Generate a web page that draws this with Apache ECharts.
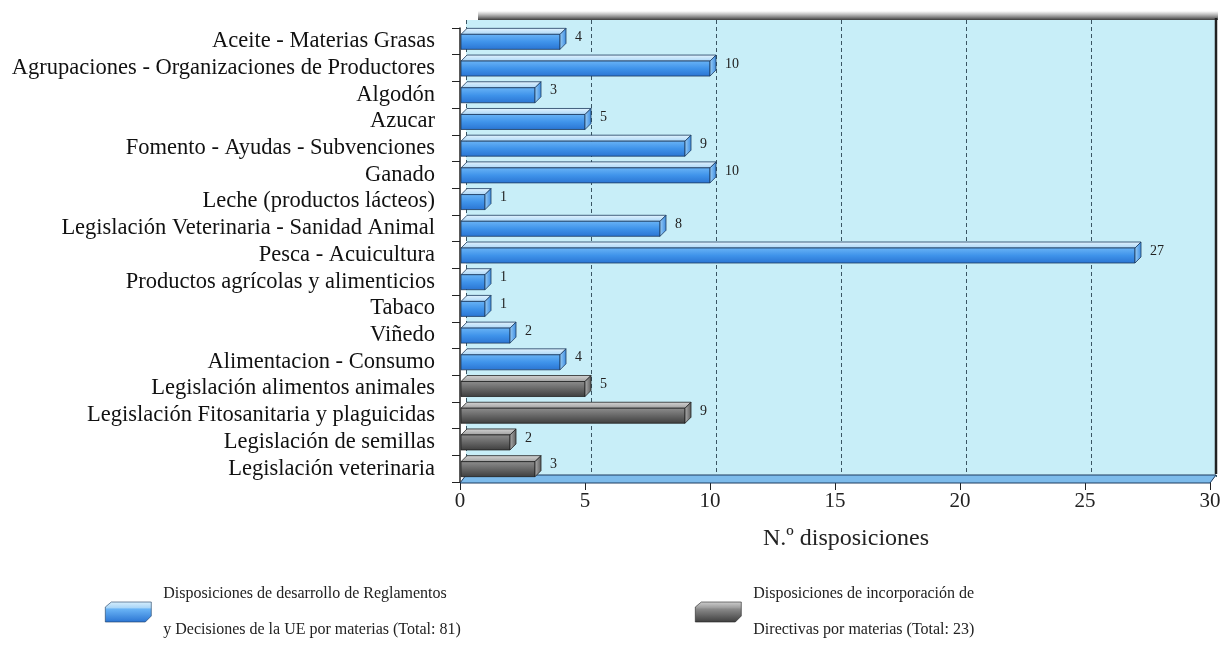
<!DOCTYPE html>
<html><head><meta charset="utf-8">
<script src="https://cdn.jsdelivr.net/npm/echarts@6/dist/echarts.min.js"></script>
<style>html,body{margin:0;padding:0;background:#fff}#c{width:1225px;height:657px}</style>
</head><body><div id="c"></div>
<script>
const categories = [
  'Aceite - Materias Grasas',
  'Agrupaciones - Organizaciones de Productores',
  'Algodón',
  'Azucar',
  'Fomento - Ayudas - Subvenciones',
  'Ganado',
  'Leche (productos lácteos)',
  'Legislación Veterinaria - Sanidad Animal',
  'Pesca - Acuicultura',
  'Productos agrícolas y alimenticios',
  'Tabaco',
  'Viñedo',
  'Alimentacion - Consumo',
  'Legislación alimentos animales',
  'Legislación Fitosanitaria y plaguicidas',
  'Legislación de semillas',
  'Legislación veterinaria'
];
const blueValues = [4, 10, 3, 5, 9, 10, 1, 8, 27, 1, 1, 2, 4, null, null, null, null];
const grayValues = [null, null, null, null, null, null, null, null, null, null, null, null, null, 5, 9, 2, 3];
const seriesNames = [
  'Disposiciones de desarrollo de Reglamentos\ny Decisiones de la UE por materias (Total: 81)',
  'Disposiciones de incorporación de\nDirectivas por materias (Total: 23)'
];
const xMin = 0, xMax = 30, xStep = 5;
const axisTitle = 'N.º disposiciones';

const SERIF = '"Liberation Serif", "DejaVu Serif", serif';

function toPairs(vals) {
  const out = [];
  vals.forEach((v, i) => { if (v != null) out.push([v, i]); });
  return out;
}

function make3D(c) {
  return function (params, api) {
    const v = api.value(0), ci = api.value(1);
    const p0 = api.coord([0, ci]);
    const p1 = api.coord([v, ci]);
    const d = 6;
    const yT = p0[1] - 7, yB = p0[1] + 8;
    const x0 = p0[0] + 1, x1 = p1[0];
    const G = echarts.graphic.LinearGradient;
    return {
      type: 'group',
      children: [
        { type: 'polygon', shape: { points: [[x0, yT], [x0 + d, yT - d], [x1 + d, yT - d], [x1, yT]] },
          style: { fill: new G(0, 0, 0, 1, [{ offset: 0, color: c.top0 }, { offset: 1, color: c.top1 }]), stroke: c.stroke, lineWidth: 0.8 } },
        { type: 'rect', shape: { x: x0, y: yT, width: Math.max(x1 - x0, 0), height: yB - yT },
          style: { fill: new G(0, 0, 0, 1, [{ offset: 0, color: c.f0 }, { offset: 0.5, color: c.f1 }, { offset: 1, color: c.f2 }]), stroke: c.stroke, lineWidth: 0.8 } },
        { type: 'polygon', shape: { points: [[x1, yT], [x1 + d, yT - d], [x1 + d, yB - d], [x1, yB]] },
          style: { fill: new G(0, 0, 1, 0, [{ offset: 0, color: c.s0 }, { offset: 1, color: c.s1 }]), stroke: c.stroke, lineWidth: 0.8 } },
        { type: 'text', style: { text: String(v), x: x1 + d + 9, y: yT + 3, verticalAlign: 'middle', align: 'left',
          font: '14px ' + SERIF, fill: '#222' } }
      ]
    };
  };
}

const blueC = { top0: '#e4f4fe', top1: '#a9d5f7', f0: '#6ab4f6', f1: '#3f93ea', f2: '#2a74d2', s0: '#9dd0f7', s1: '#3a8ae0', stroke: '#1d3a5e' };
const grayC = { top0: '#d6d6d6', top1: '#9c9c9c', f0: '#8e8e8e', f1: '#666666', f2: '#3e3e3e', s0: '#b0b0b0', s1: '#5a5a5a', stroke: '#222222' };

const legendIcon = 'path://M0,5 L6,0 L46,0 L46,14 L40,20 L0,20 Z';
const G = echarts.graphic.LinearGradient;
const legendBlue = new G(0, 0, 0, 1, [{ offset: 0, color: '#d8effd' }, { offset: 0.3, color: '#a9d5f7' }, { offset: 0.35, color: '#6ab4f6' }, { offset: 1, color: '#2a74d2' }]);
const legendGray = new G(0, 0, 0, 1, [{ offset: 0, color: '#cfcfcf' }, { offset: 0.3, color: '#9c9c9c' }, { offset: 0.35, color: '#8a8a8a' }, { offset: 1, color: '#3e3e3e' }]);

const chart = echarts.init(document.getElementById('c'), null, { renderer: 'canvas' });
chart.setOption({
  backgroundColor: '#ffffff',
  animation: false,
  grid: [
    { left: 460, right: 15, top: 28, bottom: 175, containLabel: false },
    { left: 466, right: 9, top: 20, bottom: 180, show: true, backgroundColor: '#c8eef8', borderWidth: 0, z: 0 }
  ],
  xAxis: [
    { gridIndex: 0, type: 'value', min: xMin, max: xMax, interval: xStep,
      axisLine: { show: true, lineStyle: { color: '#222', width: 1.2 } },
      axisTick: { show: true, length: 8, lineStyle: { color: '#222' } },
      axisLabel: { fontFamily: SERIF, fontSize: 21, color: '#222', margin: 9 },
      splitLine: { show: false },
      name: axisTitle, nameLocation: 'middle', nameGap: 45,
      nameTextStyle: { fontFamily: SERIF, fontSize: 24, color: '#222', padding: [0, 0, 0, 22] } },
    { gridIndex: 1, type: 'value', min: xMin, max: xMax, interval: xStep,
      axisLine: { show: false }, axisTick: { show: false }, axisLabel: { show: false },
      splitLine: { show: true, lineStyle: { color: '#3a5563', type: [4, 3], width: 1 } } }
  ],
  yAxis: [
    { gridIndex: 0, type: 'category', data: categories, inverse: true,
      axisLine: { show: true, lineStyle: { color: '#222', width: 1.5 } },
      axisTick: { show: true, length: 8, alignWithLabel: false, interval: 0, lineStyle: { color: '#222' } },
      axisLabel: { interval: 0, fontFamily: SERIF, fontSize: 22.5, color: '#111', margin: 25, lineHeight: 24 } },
    { gridIndex: 1, type: 'value', show: false, min: 0, max: 1 }
  ],
  legend: [
    { left: 100, top: 571, data: [{ name: seriesNames[0], itemStyle: { color: legendBlue, borderColor: '#1d3a5e', borderWidth: 0.6 } }],
      itemWidth: 46, itemHeight: 20, icon: legendIcon,
      textStyle: { fontFamily: SERIF, fontSize: 16, color: '#222', lineHeight: 36, padding: [0, 0, 0, 7] } },
    { left: 690, top: 571, data: [{ name: seriesNames[1], itemStyle: { color: legendGray, borderColor: '#222', borderWidth: 0.6 } }],
      itemWidth: 46, itemHeight: 20, icon: legendIcon,
      textStyle: { fontFamily: SERIF, fontSize: 16, color: '#222', lineHeight: 36, padding: [0, 0, 0, 7] } }
  ],
  graphic: [
    { type: 'rect', shape: { x: 478, y: 11, width: 740, height: 9 }, z: 1,
      style: { fill: new G(0, 0, 0, 1, [{ offset: 0, color: 'rgba(90,90,90,0)' }, { offset: 1, color: 'rgba(40,40,40,0.9)' }]) } },
    { type: 'line', shape: { x1: 1216, y1: 18, x2: 1216, y2: 474 }, z: 1, style: { stroke: '#222', lineWidth: 2.5 } },
    { type: 'polygon', shape: { points: [[460, 483], [466, 475], [1216, 475], [1210, 483]] }, z: 1,
      style: { fill: '#7dbbeb', stroke: '#1d3a5e', lineWidth: 1 } }
  ],
  series: [
    { name: seriesNames[0], type: 'custom', xAxisIndex: 0, yAxisIndex: 0, z: 5,
      itemStyle: { color: '#3f93ea' }, encode: { x: 0, y: 1 },
      data: toPairs(blueValues), renderItem: make3D(blueC) },
    { name: seriesNames[1], type: 'custom', xAxisIndex: 0, yAxisIndex: 0, z: 5,
      itemStyle: { color: '#5e5e5e' }, encode: { x: 0, y: 1 },
      data: toPairs(grayValues), renderItem: make3D(grayC) }
  ]
});
</script></body></html>
